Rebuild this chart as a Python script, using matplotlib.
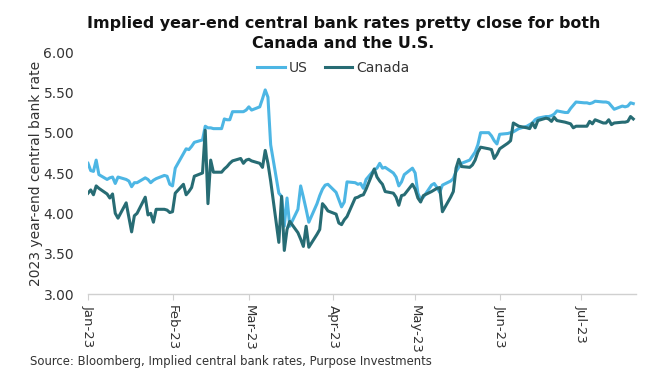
import matplotlib
matplotlib.use("Agg")
import matplotlib.pyplot as plt
import pandas as pd

# Business days from 2 Jan 2023 to 21 Jul 2023
start_date = "2023-01-02"
end_date = "2023-07-21"

us_jan = [4.62, 4.53, 4.52, 4.66, 4.48, 4.42, 4.44, 4.45, 4.37, 4.45, 4.42, 4.40, 4.33, 4.38, 4.38,
          4.44, 4.42, 4.38, 4.41, 4.43, 4.47, 4.46]
us_feb = [4.36, 4.34, 4.56, 4.74, 4.80, 4.79, 4.83, 4.88, 4.91, 5.08, 5.06, 5.06, 5.05,
          5.05, 5.17, 5.16, 5.16, 5.26, 5.26, 5.26]
us_mar = [5.28, 5.32, 5.28, 5.32, 5.42, 5.53, 5.44, 4.85, 4.25, 4.21, 3.84, 4.19, 3.84,
          4.05, 4.34, 4.20, 4.05, 3.89, 4.12, 4.22, 4.30, 4.35, 4.36]
us_apr = [4.26, 4.17, 4.08, 4.14, 4.39, 4.38, 4.36, 4.37, 4.31, 4.42, 4.54, 4.56, 4.62, 4.56, 4.57,
          4.50, 4.45, 4.34, 4.39, 4.48]
us_may = [4.56, 4.50, 4.25, 4.17, 4.20, 4.35, 4.37, 4.32, 4.26, 4.35, 4.40, 4.43, 4.52, 4.57, 4.62,
          4.66, 4.71, 4.76, 4.85, 5.00, 5.00, 4.96, 4.90]
us_jun = [4.86, 4.98, 4.99, 5.00, 5.01, 5.03, 5.05, 5.08, 5.10, 5.12, 5.16, 5.18, 5.20, 5.20, 5.21,
          5.23, 5.27, 5.25, 5.25, 5.30, 5.34, 5.38]
us_jul = [5.37, 5.37, 5.36, 5.37, 5.39, 5.38, 5.38, 5.37, 5.33, 5.29, 5.33, 5.32, 5.33, 5.37, 5.36]

ca_jan = [4.25, 4.29, 4.23, 4.34, 4.31, 4.24, 4.19, 4.24, 4.00, 3.94, 4.13, 3.95, 3.77, 3.97, 4.00,
          4.20, 3.98, 4.00, 3.89, 4.05, 4.05, 4.04]
ca_feb = [4.01, 4.02, 4.25, 4.36, 4.23, 4.27, 4.32, 4.46, 4.50, 5.03, 4.12, 4.66, 4.51,
          4.51, 4.55, 4.58, 4.62, 4.65, 4.68, 4.62]
ca_mar = [4.66, 4.67, 4.65, 4.62, 4.57, 4.78, 4.62, 4.40, 3.64, 4.21, 3.54, 3.80, 3.90,
          3.76, 3.68, 3.59, 3.84, 3.58, 3.74, 3.80, 4.12, 4.08, 4.03]
ca_apr = [3.99, 3.88, 3.86, 3.92, 3.96, 4.19, 4.20, 4.22, 4.23, 4.30, 4.55, 4.45, 4.40, 4.36, 4.27,
          4.25, 4.20, 4.10, 4.22, 4.23]
ca_may = [4.36, 4.30, 4.19, 4.14, 4.22, 4.27, 4.29, 4.31, 4.32, 4.02, 4.20, 4.27, 4.56, 4.67, 4.58,
          4.57, 4.60, 4.66, 4.76, 4.82, 4.80, 4.79, 4.68]
ca_jun = [4.73, 4.80, 4.87, 4.90, 5.12, 5.10, 5.08, 5.06, 5.05, 5.12, 5.06, 5.15, 5.18, 5.17, 5.14,
          5.19, 5.15, 5.13, 5.12, 5.11, 5.06, 5.08]
ca_jul = [5.08, 5.08, 5.14, 5.11, 5.16, 5.12, 5.12, 5.16, 5.10, 5.12, 5.13, 5.13, 5.14, 5.20, 5.17]

tick_months = ["Jan-23", "Feb-23", "Mar-23", "Apr-23", "May-23", "Jun-23", "Jul-23"]
yticks = [3.00, 3.50, 4.00, 4.50, 5.00, 5.50, 6.00]

dates = pd.bdate_range(start_date, end_date)
us = us_jan + us_feb + us_mar + us_apr + us_may + us_jun + us_jul
ca = ca_jan + ca_feb + ca_mar + ca_apr + ca_may + ca_jun + ca_jul

US_COLOR = "#4DB6E4"
CA_COLOR = "#276C74"
TEXT = "#333333"

plt.rcParams['font.family'] = ['DejaVu Sans']

fig = plt.figure(figsize=(6.54, 3.86), dpi=100)
ax = fig.add_axes([88/654, 1-294/386, (636-88)/654, (294-52)/386])

ax.plot(dates, us, color=US_COLOR, lw=2.2, label="US", solid_joinstyle='round')
ax.plot(dates, ca, color=CA_COLOR, lw=2.2, label="Canada", solid_joinstyle='round')

ax.set_ylim(3.0, 6.0)
ax.set_yticks(yticks)
ax.set_yticklabels([f"{v:.2f}" for v in yticks], color=TEXT, fontsize=10)
first = pd.Timestamp(start_date)
tick_dates = [first + pd.DateOffset(months=i) for i in range(len(tick_months))]
ax.set_xticks(tick_dates)
ax.set_xticklabels(tick_months, rotation=270, color=TEXT, fontsize=9.5, va='top', ha='center')
ax.set_xlim(first, pd.Timestamp(end_date) + pd.Timedelta(days=1))

for s in ['top', 'right', 'left']:
    ax.spines[s].set_visible(False)
ax.spines['bottom'].set_color('#d0d0d0')
ax.spines['bottom'].set_linewidth(1.0)
ax.tick_params(axis='y', length=0, pad=10)
ax.tick_params(axis='x', length=4, color='#d0d0d0', direction='out', pad=4)

ax.set_ylabel("2023 year-end central bank rate", fontsize=10, color=TEXT, labelpad=0)

fig.text(0.525, 0.913, "Implied year-end central bank rates pretty close for both\nCanada and the U.S.",
         ha='center', va='center', fontsize=11.4, fontweight='bold', color='#111111', linespacing=1.4)

fig.legend(loc='center', bbox_to_anchor=(0.51, 0.824), ncol=2, frameon=False, fontsize=10,
           handlelength=2.0, handletextpad=0.3, columnspacing=1.2, labelcolor=TEXT)

fig.text(30/654, 1-362/386, "Source: Bloomberg, Implied central bank rates, Purpose Investments",
         ha='left', va='center', fontsize=8.4, color=TEXT)

fig.savefig("out.png", dpi=100)
